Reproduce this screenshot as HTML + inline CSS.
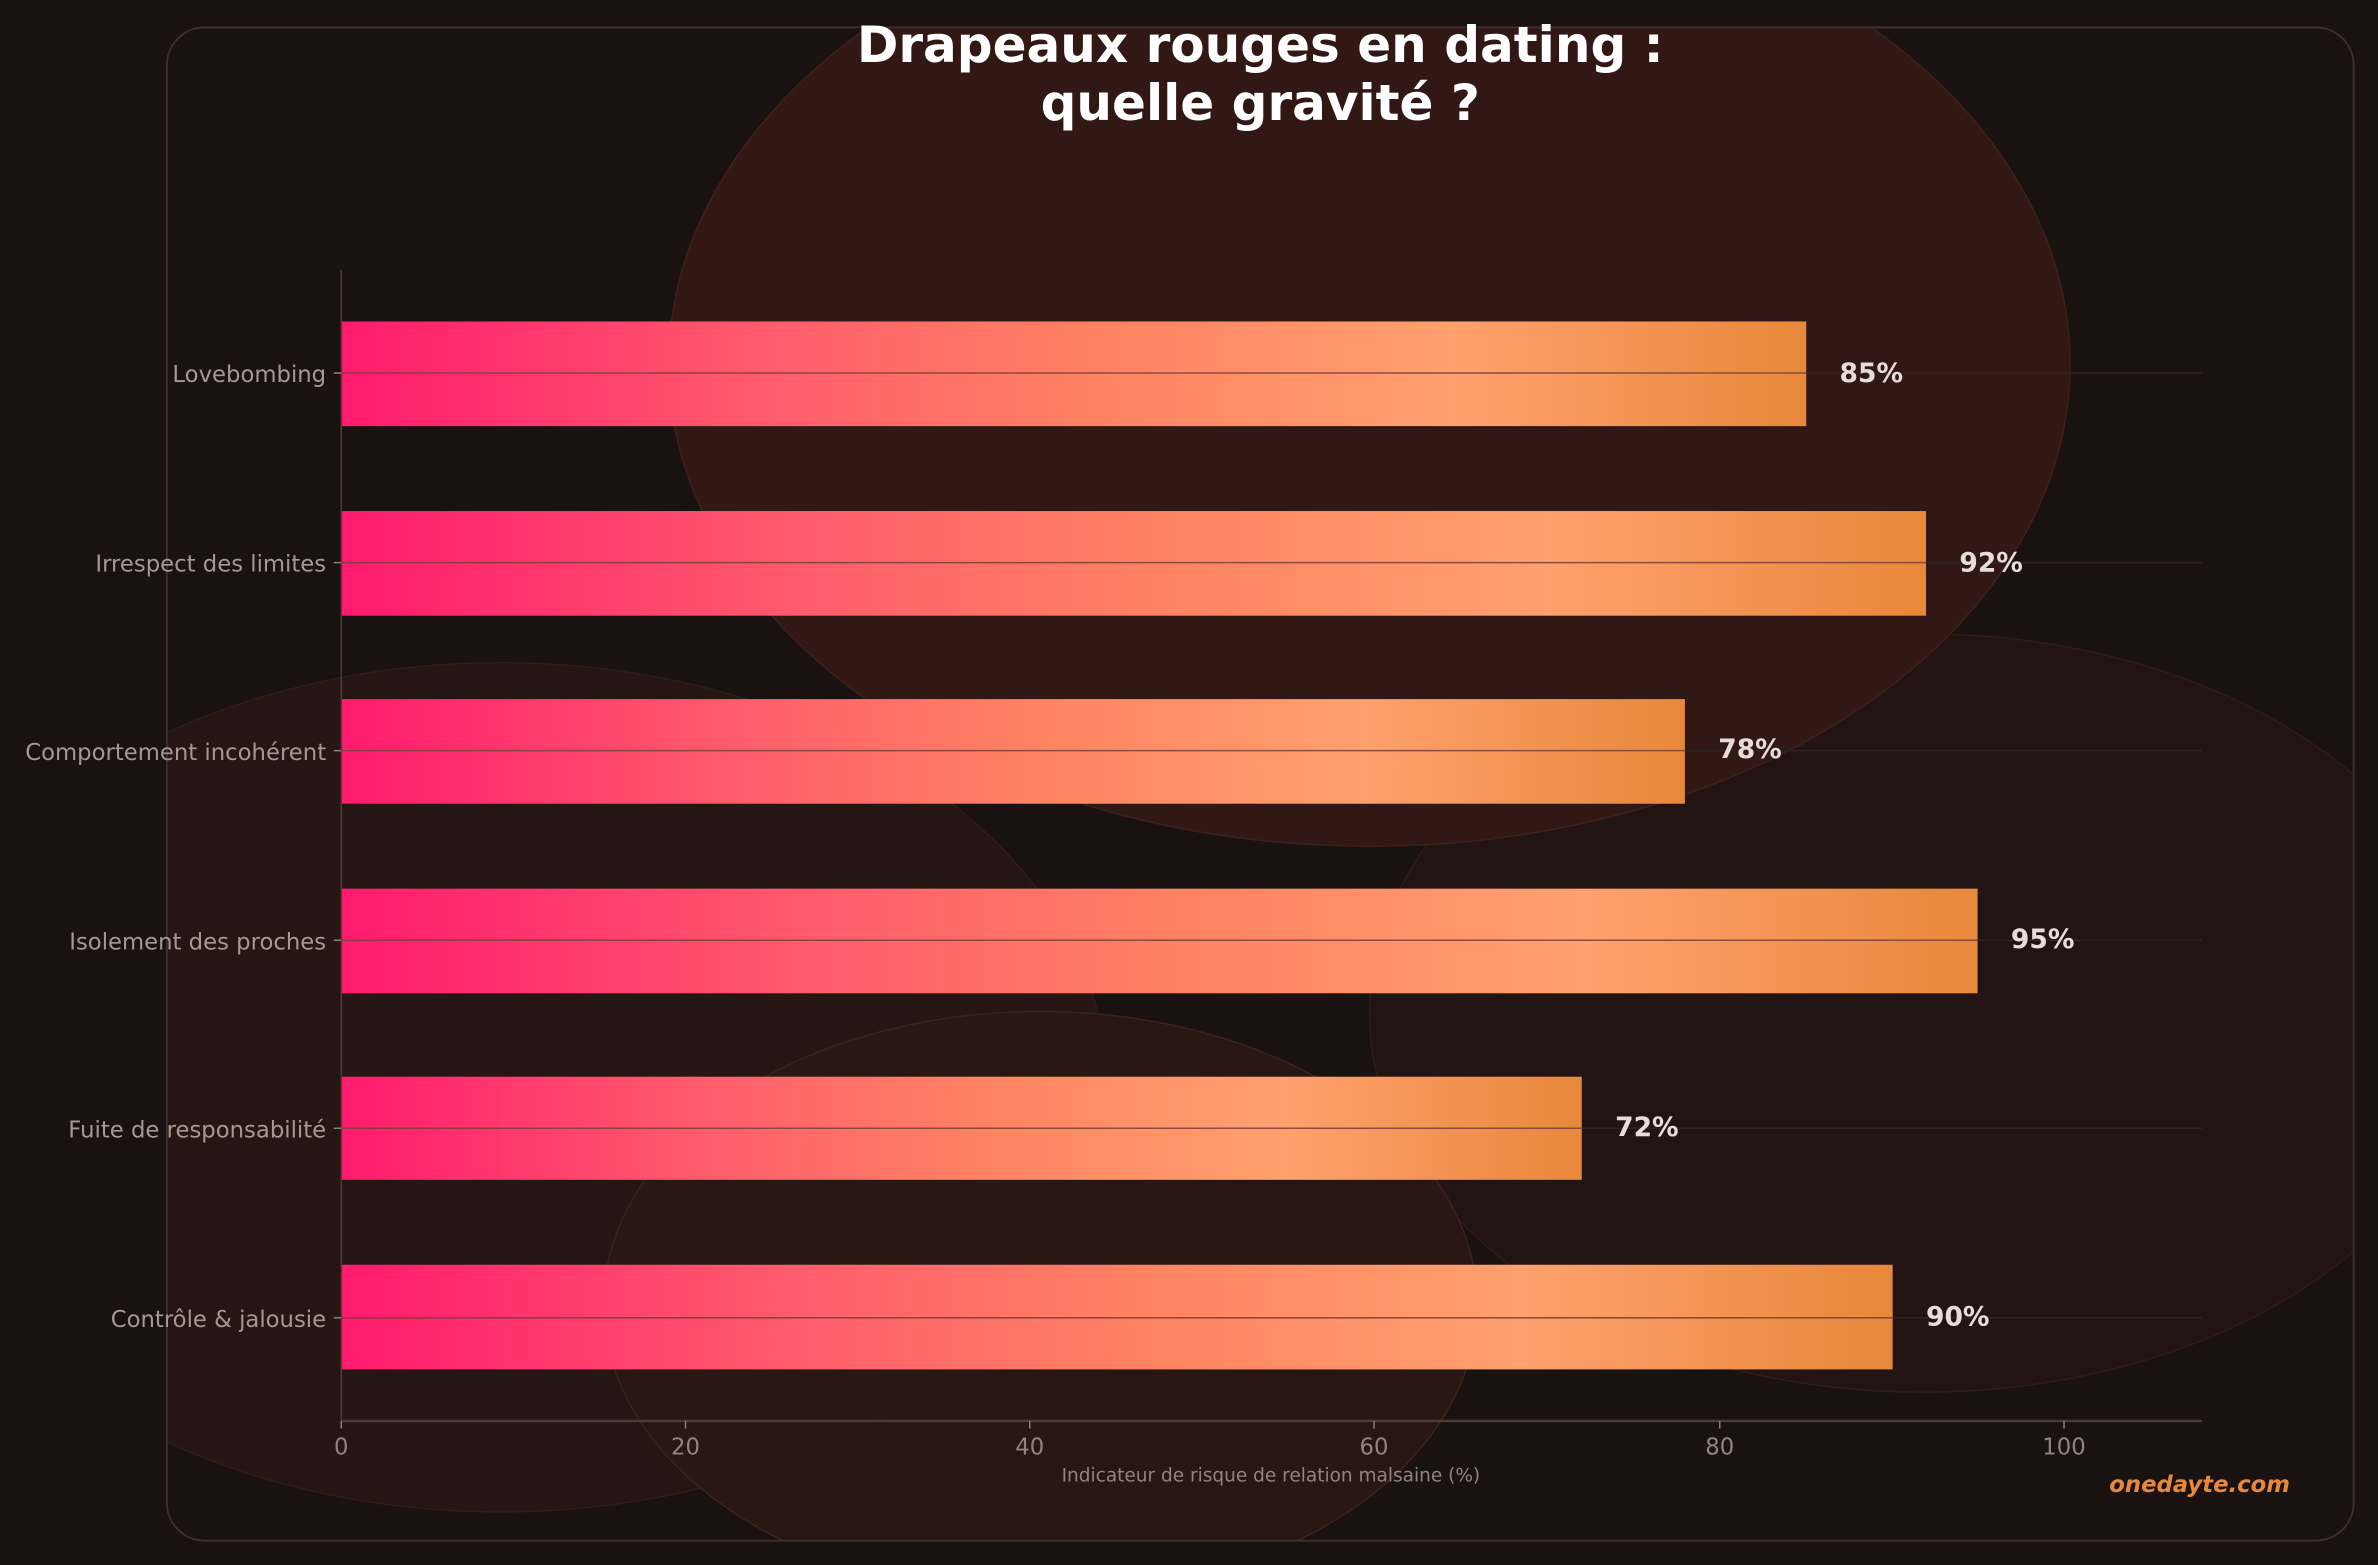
<!DOCTYPE html>
<html><head><meta charset="utf-8"><style>
html,body{margin:0;padding:0;background:#1a1210;}
svg{display:block;}
text{font-family:"DejaVu Sans","Liberation Sans",sans-serif;}
</style></head><body>
<svg width="2378" height="1565" viewBox="0 0 1568 1032" xmlns="http://www.w3.org/2000/svg">
<defs>
<linearGradient id="g" x1="0" y1="0" x2="1" y2="0">
<stop offset="0" stop-color="#ff1a6e"/>
<stop offset="0.3" stop-color="#ff5e6c"/>
<stop offset="0.52" stop-color="#ff8362"/>
<stop offset="0.76" stop-color="#ffa06e"/>
<stop offset="1" stop-color="#e8883a"/>
</linearGradient>
<clipPath id="card"><rect x="110" y="18" width="1442" height="998" rx="25"/></clipPath>
</defs>
<rect width="1568" height="1032" fill="#1a1210"/>
<rect x="110" y="18" width="1442" height="998" rx="25" fill="#1a1210"/>
<g clip-path="url(#card)">
<ellipse cx="330" cy="717" rx="400" ry="280" fill="#251613" stroke="#2e1c18"/>
<ellipse cx="1268" cy="668" rx="365" ry="250" fill="#221412" stroke="#2e1c18"/>
<ellipse cx="686" cy="860" rx="288" ry="193" fill="#2a1714" stroke="#3a221c" fill-opacity="0.9"/>
<ellipse cx="903" cy="240" rx="462" ry="318" fill="#321815" stroke="#3c201b"/>
</g>
<rect x="110" y="18" width="1442" height="998" rx="25" fill="none" stroke="#3e302c" stroke-width="1.2"/>
<text x="831" y="41" text-anchor="middle" font-size="33" font-weight="bold" fill="#ffffff">Drapeaux rouges en dating :</text>
<text x="831" y="79" text-anchor="middle" font-size="33" font-weight="bold" fill="#ffffff">quelle gravité ?</text>
<g stroke="#2e2220" stroke-width="1">
<line x1="225" y1="246" x2="1452" y2="246"/><line x1="225" y1="371" x2="1452" y2="371"/>
<line x1="225" y1="495" x2="1452" y2="495"/><line x1="225" y1="620" x2="1452" y2="620"/>
<line x1="225" y1="744" x2="1452" y2="744"/><line x1="225" y1="869" x2="1452" y2="869"/>
</g>
<g fill="url(#g)">
<rect x="225" y="212" width="966" height="69"/>
<rect x="225" y="337" width="1045" height="69"/>
<rect x="225" y="461" width="886" height="69"/>
<rect x="225" y="586" width="1079" height="69"/>
<rect x="225" y="710" width="818" height="68"/>
<rect x="225" y="834" width="1023" height="69"/>
</g>
<g stroke="#7a4038" stroke-width="1" opacity="0.85">
<line x1="225" y1="246" x2="1191" y2="246"/><line x1="225" y1="371" x2="1270" y2="371"/>
<line x1="225" y1="495" x2="1111" y2="495"/><line x1="225" y1="620" x2="1304" y2="620"/>
<line x1="225" y1="744" x2="1043" y2="744"/><line x1="225" y1="869" x2="1248" y2="869"/>
</g>
<line x1="225" y1="178" x2="225" y2="937" stroke="#4a3c38" stroke-width="1"/>
<line x1="225" y1="937" x2="1452" y2="937" stroke="#4a3c38" stroke-width="1.5"/>
<g stroke="#8a7e7a" stroke-width="1">
<line x1="220" y1="246" x2="225" y2="246"/><line x1="220" y1="371" x2="225" y2="371"/>
<line x1="220" y1="495" x2="225" y2="495"/><line x1="220" y1="620" x2="225" y2="620"/>
<line x1="220" y1="744" x2="225" y2="744"/><line x1="220" y1="869" x2="225" y2="869"/>
<line x1="225" y1="937" x2="225" y2="942"/><line x1="452" y1="937" x2="452" y2="942"/>
<line x1="679" y1="937" x2="679" y2="942"/><line x1="906" y1="937" x2="906" y2="942"/>
<line x1="1134" y1="937" x2="1134" y2="942"/><line x1="1361" y1="937" x2="1361" y2="942"/>
</g>
<g font-size="15" fill="#a59893" text-anchor="end">
<text x="215" y="252">Lovebombing</text>
<text x="215" y="377">Irrespect des limites</text>
<text x="215" y="501">Comportement incohérent</text>
<text x="215" y="626">Isolement des proches</text>
<text x="215" y="750">Fuite de responsabilité</text>
<text x="215" y="875">Contrôle &amp; jalousie</text>
</g>
<g font-size="15" fill="#8f8480" text-anchor="middle">
<text x="225" y="959">0</text><text x="452" y="959">20</text><text x="679" y="959">40</text>
<text x="906" y="959">60</text><text x="1134" y="959">80</text><text x="1361" y="959">100</text>
</g>
<text x="838" y="977" text-anchor="middle" font-size="12.2" fill="#8f8480">Indicateur de risque de relation malsaine (%)</text>
<g font-size="17.5" font-weight="bold" fill="#e8dcd8">
<text x="1213" y="252">85%</text>
<text x="1292" y="377">92%</text>
<text x="1133" y="500">78%</text>
<text x="1326" y="625">95%</text>
<text x="1065" y="749">72%</text>
<text x="1270" y="874">90%</text>
</g>
<text x="1510" y="984" text-anchor="end" font-size="15" font-weight="bold" font-style="italic" fill="#e8883a">onedayte.com</text>
</svg>
</body></html>
